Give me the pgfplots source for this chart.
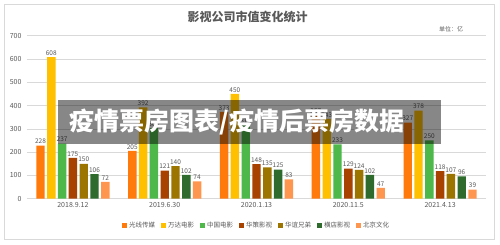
\documentclass[border=0pt]{standalone}
\usepackage{pgfplots}
\pgfplotsset{compat=1.18}
\usepackage{fontspec}
\setmainfont{Noto Sans CJK SC}
\definecolor{cA}{HTML}{FF7A0A}
\definecolor{cB}{HTML}{FFC000}
\definecolor{cC}{HTML}{4EB84A}
\definecolor{cD}{HTML}{A84200}
\definecolor{cE}{HTML}{9C7500}
\definecolor{cF}{HTML}{2E6B2C}
\definecolor{cG}{HTML}{FF9650}
\definecolor{txt}{HTML}{595959}
\begin{document}
\begin{tikzpicture}
\fill[white] (0,0) rectangle (500pt,244pt);
\draw[color=black!15, line width=1pt] (4.5pt,5pt) rectangle (494pt,239.5pt);
\begin{axis}[
  at={(27pt,45.3pt)}, anchor=south west, scale only axis,
  width=459pt, height=163pt,
  xmin=-0.5, xmax=4.5, ymin=0, ymax=700,
  ytick={0,100,...,700},
  xtick={0,1,2,3,4},
  xticklabels={2018.9.12,2019.6.30,2020.1.13,2020.11.5,2021.4.13},
  ybar=2.4pt, bar width=8.4pt,
  ymajorgrids, grid style={color=black!15, line width=0.6pt},
  axis line style={draw=none},
  major tick length=0pt,
  tick label style={font=\fontsize{7}{8}\selectfont, text=txt},
  yticklabel style={xshift=-2pt},
  /pgf/number format/assume math mode=true,
  nodes near coords,
  nodes near coords style={font=\fontsize{6.5}{7}\selectfont, text=txt, inner sep=1.5pt},
  legend columns=7,
  legend style={at={(0.5,-0.166)}, anchor=center, draw=none, fill=none,
    font=\fontsize{6.5}{7}\selectfont, text=txt,
    /tikz/every even column/.append style={column sep=4pt}},
  legend image code/.code={\fill[#1] (0pt,-2.5pt) rectangle (5pt,2.5pt);},
]
\addplot[fill=cA, draw=none] coordinates {(0,228) (1,205) (2,373) (3,357) (4,327)};
\addplot[fill=cB, draw=none] coordinates {(0,608) (1,392) (2,450) (3,343) (4,378)};
\addplot[fill=cC, draw=none] coordinates {(0,237) (1,303) (2,315) (3,233) (4,250)};
\addplot[fill=cD, draw=none] coordinates {(0,175) (1,121) (2,148) (3,129) (4,118)};
\addplot[fill=cE, draw=none] coordinates {(0,150) (1,140) (2,135) (3,124) (4,107)};
\addplot[fill=cF, draw=none] coordinates {(0,106) (1,102) (2,125) (3,102) (4,96)};
\addplot[fill=cG, draw=none] coordinates {(0,72) (1,74) (2,83) (3,47) (4,39)};
\legend{光线传媒,万达电影,中国电影,华策影视,华谊兄弟,横店影视,北京文化}
\end{axis}
\node[font=\fontsize{12}{14}\selectfont\bfseries, text=txt] at (247.5pt,227pt) {影视公司市值变化统计};
\node[font=\fontsize{6}{7}\selectfont, text=txt] at (451pt,215pt) {单位：亿};
\fill[black, opacity=0.47] (58pt,100pt) rectangle (441pt,144pt);
\node[text=white, font=\fontsize{25}{28}\selectfont\bfseries] at (237pt,122pt) {疫情票房图表/疫情后票房数据};
\end{tikzpicture}
\end{document}
